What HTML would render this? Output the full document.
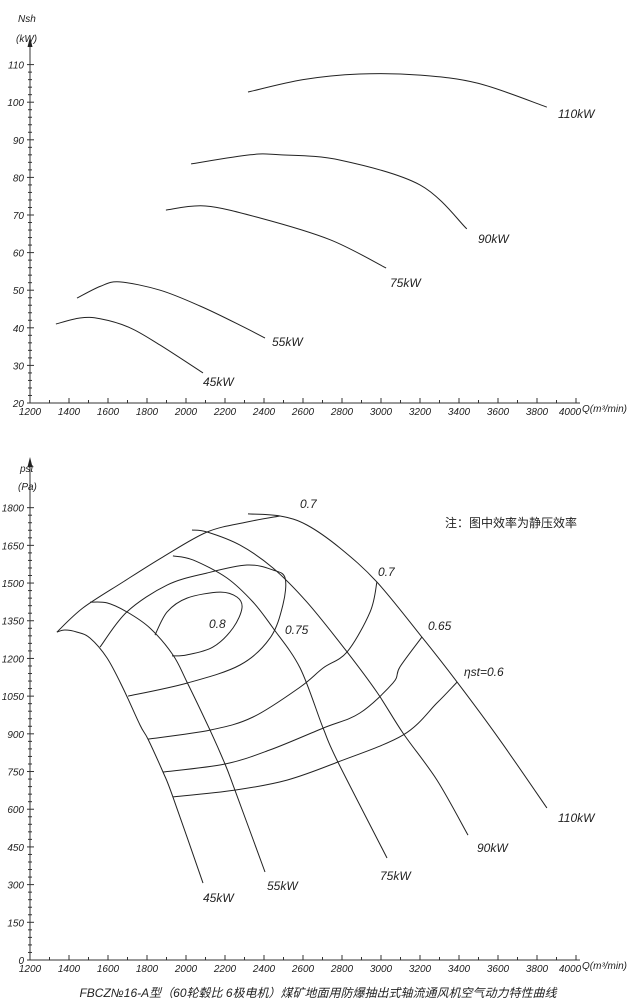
<!DOCTYPE html>
<html><head><meta charset="utf-8">
<style>
html,body{margin:0;padding:0;background:#fff;}
svg{display:block;}
text{font-family:"Liberation Sans","Noto Sans CJK SC",sans-serif;fill:#222;}
.t{font-size:10px;font-style:italic;}
.lb{font-size:12px;font-style:italic;}
</style></head>
<body>
<svg id="c" width="635" height="1007" viewBox="0 0 635 1007" xmlns="http://www.w3.org/2000/svg">
<text x="318" y="997" text-anchor="middle" style="font-size:12px;font-style:italic">FBCZ№16-A型（60轮毂比 6极电机）煤矿地面用防爆抽出式轴流通风机空气动力特性曲线</text>
<text x="445" y="527" style="font-size:12px">注：图中效率为静压效率</text>
</svg>
<script>
// ---- shared x axis data ----
const xTicks = [1200,1400,1600,1800,2000,2200,2400,2600,2800,3000,3200,3400,3600,3800,4000];
// ---- top chart: shaft power Nsh (kW) ----
const topYTicks = [20,30,40,50,60,70,80,90,100,110];
const topQ45 = [1333,1456,1560,1713,1867,2087];
const topN45 = [41,42.6,42.4,40,35.4,28];
const topQ55 = [1441,1560,1660,1867,2072,2277,2405];
const topN55 = [47.9,51,52.2,50,45.8,40.7,37.3];
const topQ75 = [1897,2100,2380,2740,3026];
const topN75 = [71.3,72.4,69.2,63.4,55.9];
const topQ90 = [2026,2330,2480,2790,3200,3440];
const topN90 = [83.6,86,86,84.6,78,66.3];
const topQ110 = [2318,2600,2890,3200,3500,3850];
const topN110 = [102.7,106,107.5,107.2,105,98.7];
// ---- bottom chart: static pressure pst (Pa) ----
const botYTicks = [0,150,300,450,600,750,900,1050,1200,1350,1500,1650,1800];
const envQ = [1338,1472,1677,1882,2108,2313,2482];
const envP = [1305,1401,1504,1604,1703,1743,1767];
const p110Q = [2318,2482,2620,2790,2979,3210,3390,3610,3851];
const p110P = [1775,1767,1731,1639,1504,1285,1106,875,605];
const p90Q = [2031,2108,2277,2446,2620,2826,2979,3113,3287,3446];
const p90P = [1711,1703,1651,1560,1424,1226,1066,903,716,497];
const p75Q = [1933,2036,2210,2344,2446,2585,2703,2779,3031];
const p75P = [1608,1592,1520,1424,1321,1162,923,788,406];
const p55Q = [1508,1595,1697,1815,1933,2005,2123,2200,2251,2405];
const p55P = [1424,1421,1385,1321,1214,1106,915,780,676,350];
const p45Q = [1338,1379,1441,1508,1595,1677,1764,1805,1882,1933,2087];
const p45P = [1305,1313,1305,1281,1202,1082,935,879,748,649,306];
const e80Q = [1841,1903,2005,2174,2262,2287,2241,2138,2005,1928];
const e80P = [1293,1385,1440,1464,1444,1401,1321,1245,1214,1210];
const e75Q = [1559,1697,1903,2108,2313,2446,2508,2497,2431,2277,2005,1703];
const e75P = [1245,1385,1492,1540,1572,1552,1520,1413,1281,1174,1102,1050];
const e70Q = [1805,2123,2344,2585,2703,2826,2944,2979];
const e70P = [879,915,967,1086,1162,1226,1385,1504];
const e65Q = [1882,2200,2431,2703,2892,3061,3097,3210];
const e65P = [748,780,836,923,983,1102,1166,1285];
const e60Q = [1933,2251,2518,2779,3113,3287,3390];
const e60P = [649,676,716,788,895,1023,1106];

const NS='http://www.w3.org/2000/svg';
const svg=document.getElementById('c');
const X=q=>30+(q-1200)*0.195;
const Yt=n=>403-(n-20)*3.76;
const Yb=p=>960-p*0.2513;
function mk(tag,attrs,parent){const e=document.createElementNS(NS,tag);for(const k in attrs)e.setAttribute(k,attrs[k]);(parent||svg).appendChild(e);return e;}
function poly(qs,vs,yf,name){
  const pts=qs.map((q,i)=>[X(q),yf(vs[i])]);
  let d='M'+pts[0][0].toFixed(1)+' '+pts[0][1].toFixed(1);
  for(let i=0;i<pts.length-1;i++){
    const p0=pts[i-1]||pts[i],p1=pts[i],p2=pts[i+1],p3=pts[i+2]||p2;
    const c1=[p1[0]+(p2[0]-p0[0])/6,p1[1]+(p2[1]-p0[1])/6];
    const c2=[p2[0]-(p3[0]-p1[0])/6,p2[1]-(p3[1]-p1[1])/6];
    d+=` C${c1[0].toFixed(1)} ${c1[1].toFixed(1)} ${c2[0].toFixed(1)} ${c2[1].toFixed(1)} ${p2[0].toFixed(1)} ${p2[1].toFixed(1)}`;
  }
  const p=mk('path',{d:d,fill:'none',stroke:'#222','stroke-width':'1'});
  
  
}
function txt(x,y,s,cls,name,anchor){
  const t=mk('text',{x:x,y:y,class:cls,'text-anchor':anchor||'start'});t.textContent=s;
  
  
  return t;
}
function axes(yBase,yTop,yTicks,yf,minorStep,prefix){
  const g=mk('g',{stroke:'#333','stroke-width':'1'});
  
  
  mk('line',{x1:30,y1:yBase,x2:30,y2:yTop},g);
  mk('path',{d:`M30 ${yTop-8} L27.5 ${yTop+2} L32.5 ${yTop+2} Z`,fill:'#222',stroke:'none'},g);
  mk('line',{x1:30,y1:yBase,x2:580,y2:yBase},g);
  for(let q=1200;q<=4000;q+=100){const x=X(q);const major=(q%200===0);mk('line',{x1:x,y1:yBase,x2:x,y2:yBase-(major?5:3)},g);}
  xTicks.forEach((q,i)=>{txt(X(q)-(i===xTicks.length-1?6:0),yBase+12,String(q),'t',prefix+'-x-tick-label','middle');});
  const lo=yTicks[0],hi=yTicks[yTicks.length-1];
  for(let v=lo;v<=hi+1e-6;v+=minorStep){const y=yf(v);const major=yTicks.some(t=>Math.abs(t-v)<1e-6);mk('line',{x1:30-(major?3:2),y1:y,x2:30+(major?4:2),y2:y},g);}
  yTicks.forEach(v=>{txt(24,yf(v)+4,String(v),'t',prefix+'-y-tick-label','end');});
}
// top chart
axes(403,45,topYTicks,Yt,2,'top');
txt(18,22,'Nsh','t','top-y-axis-title');
txt(16,42,'(kW)','t','top-y-axis-unit');
txt(582,412,'Q(m³/min)','t','top-x-axis-title');
poly(topQ45,topN45,Yt,'top-curve-45kw');
poly(topQ55,topN55,Yt,'top-curve-55kw');
poly(topQ75,topN75,Yt,'top-curve-75kw');
poly(topQ90,topN90,Yt,'top-curve-90kw');
poly(topQ110,topN110,Yt,'top-curve-110kw');
txt(203,386,'45kW','lb','top-label-45kw');
txt(272,346,'55kW','lb','top-label-55kw');
txt(390,287,'75kW','lb','top-label-75kw');
txt(478,243,'90kW','lb','top-label-90kw');
txt(558,118,'110kW','lb','top-label-110kw');
// bottom chart
axes(960,465,botYTicks,Yb,30,'bottom');
txt(20,472,'pst','t','bottom-y-axis-title');
txt(18,490,'(Pa)','t','bottom-y-axis-unit');
txt(582,969,'Q(m³/min)','t','bottom-x-axis-title');
poly(envQ,envP,Yb,'surge-envelope');
poly(p110Q,p110P,Yb,'power-curve-110kw');
poly(p90Q,p90P,Yb,'power-curve-90kw');
poly(p75Q,p75P,Yb,'power-curve-75kw');
poly(p55Q,p55P,Yb,'power-curve-55kw');
poly(p45Q,p45P,Yb,'power-curve-45kw');
poly(e80Q,e80P,Yb,'efficiency-0-80');
poly(e75Q,e75P,Yb,'efficiency-0-75');
poly(e70Q,e70P,Yb,'efficiency-0-70');
poly(e65Q,e65P,Yb,'efficiency-0-65');
poly(e60Q,e60P,Yb,'efficiency-0-60');
txt(300,508,'0.7','lb','label-eff-0-7-top');
txt(378,576,'0.7','lb','label-eff-0-7');
txt(428,630,'0.65','lb','label-eff-0-65');
txt(464,676,'ηst=0.6','lb','label-eff-0-6');
txt(209,628,'0.8','lb','label-eff-0-8');
txt(285,634,'0.75','lb','label-eff-0-75');
txt(203,902,'45kW','lb','label-45kw');
txt(267,890,'55kW','lb','label-55kw');
txt(380,880,'75kW','lb','label-75kw');
txt(477,852,'90kW','lb','label-90kw');
txt(558,822,'110kW','lb','label-110kw');
</script>
</body></html>
